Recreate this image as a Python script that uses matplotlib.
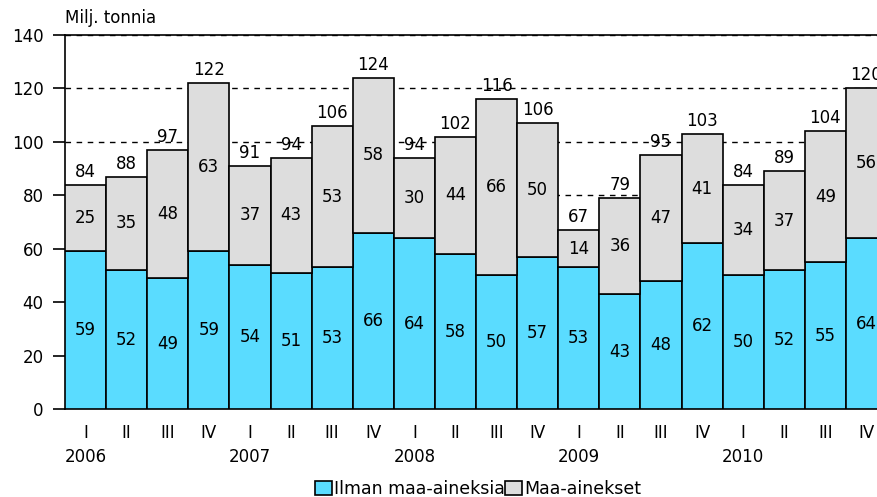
import matplotlib.pyplot as plt
import numpy as np

quarters = ['I', 'II', 'III', 'IV'] * 5
years = ['2006', '2007', '2008', '2009', '2010']
ilman = [59, 52, 49, 59, 54, 51, 53, 66, 64, 58, 50, 57, 53, 43, 48, 62, 50, 52, 55, 64]
maa = [25, 35, 48, 63, 37, 43, 53, 58, 30, 44, 66, 50, 14, 36, 47, 41, 34, 37, 49, 56]
totals = [84, 88, 97, 122, 91, 94, 106, 124, 94, 102, 116, 106, 67, 79, 95, 103, 84, 89, 104, 120]

plt.rcParams['font.family'] = ['DejaVu Sans']
fs = 12
fig = plt.figure(figsize=(8.77, 4.97), dpi=100)
# axes runs past the right edge like in the original picture
ax = fig.add_axes([65 / 877, 1 - 409 / 497, 822 / 877, 374 / 497])

x = np.arange(len(ilman))
c1 = '#5adcff'
c2 = '#dddddd'
ax.bar(x, ilman, width=1.0, color=c1, edgecolor='black', linewidth=1.2, zorder=3, label='Ilman maa-aineksia')
ax.bar(x, maa, width=1.0, bottom=ilman, color=c2, edgecolor='black', linewidth=1.2, zorder=3, label='Maa-ainekset')

for i in range(len(x)):
    ax.text(x[i], ilman[i] / 2, str(ilman[i]), ha='center', va='center', fontsize=fs, zorder=4)
    ax.text(x[i], ilman[i] + maa[i] / 2, str(maa[i]), ha='center', va='center', fontsize=fs, zorder=4)
    ax.text(x[i], ilman[i] + maa[i] + 1.5, str(totals[i]), ha='center', va='bottom', fontsize=fs, zorder=4)

ax.set_xlim(-0.5, len(x) - 0.5)
ax.set_ylim(0, 140)
ax.set_yticks(range(0, 141, 20))
ax.tick_params(axis='y', labelsize=fs, length=8.5, width=1.2, pad=7)
ax.set_xticks(x)
ax.set_xticklabels(quarters, fontsize=fs)
ax.tick_params(axis='x', length=0, pad=11)
for j, yr in enumerate(years):
    ax.text(j * 4, -14.5, yr, ha='center', va='top', fontsize=fs, transform=ax.transData)

ax.grid(axis='y', color='black', linestyle=(0, (4, 4)), linewidth=1, zorder=0)
for s in ['left', 'bottom', 'top']:
    ax.spines[s].set_linewidth(1.2)
ax.spines['right'].set_visible(False)

fig.text(65 / 877, 1 - 18 / 497, 'Milj. tonnia', ha='left', va='center', fontsize=fs)

fig.legend(loc='center', bbox_to_anchor=(478 / 877, 1 - 489 / 497), ncol=2, frameon=False,
           fontsize=12.5, handlelength=1.0, handleheight=0.9, handletextpad=0.1, columnspacing=0.0)

fig.savefig('out.png', dpi=100)
